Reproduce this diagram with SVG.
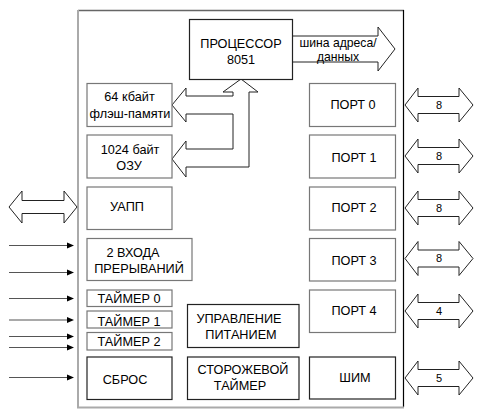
<svg xmlns="http://www.w3.org/2000/svg" width="478" height="417" viewBox="0 0 478 417">
<style>
text{font-family:"Liberation Sans",Arial,sans-serif;font-size:12.7px;fill:#000;text-anchor:middle}
.num{font-size:11px}
.bl{font-size:12.2px}
.box{fill:#fff;stroke:#777;stroke-width:1.2}
.dark{stroke:#222}
.bus{fill:#fff;stroke:#222;stroke-width:1}
.in{stroke:#555;stroke-width:1.2}
.head{fill:#000}
</style>
<rect width="478" height="417" fill="#fff"/>
<g id="chip">
<line x1="78" y1="10.5" x2="404" y2="10.5" stroke="#666" stroke-width="1.5"/>
<line x1="403.5" y1="10" x2="403.5" y2="407" stroke="#000" stroke-width="1.2"/>
<line x1="78" y1="10" x2="78" y2="408" stroke="#aaa" stroke-width="2"/>
<line x1="77" y1="407.5" x2="404" y2="407.5" stroke="#aaa" stroke-width="2"/>
</g>
<g id="connectors">
<polygon class="bus" points="292,36 378,36 378,27 395,49 378,71 378,62 292,62"/>
<line x1="292" y1="37" x2="292" y2="61" stroke="#fff" stroke-width="1.5"/>
<polygon class="bus" points="241,79 258,92 249,92 249,167 186,167 186,177 172,159 186,141 186,149 233,149 233,114 186,114 186,122 172,105 186,88 186,96 233,96 233,92 223,92"/>
<polygon class="bus" points="9,207 22,191 22,200.5 64,200.5 64,191 77,207 64,223 64,213.5 22,213.5 22,223"/>
<polygon class="bus" points="405,105 418,88 418,96.5 459,96.5 459,88 473,105 459,122 459,113.5 418,113.5 418,122"/>
<polygon class="bus" points="405,156 418,139 418,147.5 459,147.5 459,139 473,156 459,173 459,164.5 418,164.5 418,173"/>
<polygon class="bus" points="405,208 418,191 418,199.5 459,199.5 459,191 473,208 459,225 459,216.5 418,216.5 418,225"/>
<polygon class="bus" points="405,258.5 418,241.5 418,250 459,250 459,241.5 473,258.5 459,275.5 459,267 418,267 418,275.5"/>
<polygon class="bus" points="405,311 418,294 418,302.5 459,302.5 459,294 473,311 459,328 459,319.5 418,319.5 418,328"/>
<polygon class="bus" points="405,378 418,361 418,369.5 459,369.5 459,361 473,378 459,395 459,386.5 418,386.5 418,395"/>
<line class="in" x1="9" y1="245.5" x2="68" y2="245.5" stroke="#888"/><polygon class="head" points="67,242.5 74,245.5 67,248.5"/>
<line class="in" x1="9" y1="272.5" x2="68" y2="272.5" stroke="#888"/><polygon class="head" points="67,269.5 74,272.5 67,275.5"/>
<line class="in" x1="9" y1="298.5" x2="68" y2="298.5" stroke="#000"/><polygon class="head" points="67,295.5 74,298.5 67,301.5"/>
<line class="in" x1="9" y1="320" x2="68" y2="320" stroke="#aaa"/><polygon class="head" points="67,317 74,320 67,323"/>
<line class="in" x1="9" y1="336.5" x2="68" y2="336.5" stroke="#666"/><polygon class="head" points="67,333.5 74,336.5 67,339.5"/>
<line class="in" x1="9" y1="347.5" x2="68" y2="347.5" stroke="#666"/><polygon class="head" points="67,344.5 74,347.5 67,350.5"/>
<line class="in" x1="9" y1="377.5" x2="68" y2="377.5" stroke="#888"/><polygon class="head" points="67,374.5 74,377.5 67,380.5"/>
<text class="bl" x="338" y="47">шина адреса/</text>
<text class="bl" x="338" y="60.5">данных</text>
<text class="num" x="439" y="109">8</text>
<text class="num" x="439" y="160">8</text>
<text class="num" x="439" y="212">8</text>
<text class="num" x="439" y="262">8</text>
<text class="num" x="439" y="315">4</text>
<text class="num" x="439" y="382">5</text>
</g>
<g id="cpu"><rect class="box dark" x="189.5" y="19.5" width="103" height="60"/><text x="241" y="47.5">ПРОЦЕССОР</text><text x="241" y="64">8051</text></g>
<g id="flash"><rect class="box" x="87" y="83.5" width="85" height="43"/><text x="129.5" y="101">64 кбайт</text><text x="130" y="117.5">флэш-памяти</text></g>
<g id="ram"><rect class="box" x="87" y="135" width="85" height="43"/><text x="130" y="154">1024 байт</text><text x="129" y="170">ОЗУ</text></g>
<g id="uart"><rect class="box" x="87" y="187" width="85" height="42.5"/><text x="127" y="211">УАПП</text></g>
<g id="irq"><rect class="box" x="87" y="238.5" width="105" height="42"/><text x="133" y="257">2 ВХОДА</text><text x="139" y="273">ПРЕРЫВАНИЙ</text></g>
<g id="t0"><rect class="box" x="87" y="290" width="85" height="16.5"/><text x="129" y="303.3">ТАЙМЕР 0</text></g>
<g id="t1"><rect class="box" x="87" y="311" width="85" height="17"/><text x="129" y="325.7">ТАЙМЕР 1</text></g>
<g id="t2"><rect class="box" x="87" y="332.5" width="85" height="17.5"/><text x="129" y="346">ТАЙМЕР 2</text></g>
<g id="reset"><rect class="box dark" x="87" y="357" width="85" height="42.5"/><text x="125" y="384">СБРОС</text></g>
<g id="power"><rect class="box dark" x="187.5" y="304.5" width="111.5" height="43"/><text x="239" y="323.3">УПРАВЛЕНИЕ</text><text x="241" y="338.5">ПИТАНИЕМ</text></g>
<g id="watchdog"><rect class="box dark" x="187.5" y="357" width="111.5" height="42.5"/><text x="243" y="374.3">СТОРОЖЕВОЙ</text><text x="240" y="390">ТАЙМЕР</text></g>
<g id="port0"><rect class="box" x="309.5" y="83.5" width="86" height="43"/><text x="353" y="109.3">ПОРТ 0</text></g>
<g id="port1"><rect class="box" x="309.5" y="135" width="86" height="43"/><text x="354" y="162.3">ПОРТ 1</text></g>
<g id="port2"><rect class="box" x="309.5" y="187" width="86" height="43"/><text x="354" y="211.7">ПОРТ 2</text></g>
<g id="port3"><rect class="box" x="309.5" y="238.5" width="86" height="42.5"/><text x="354" y="265">ПОРТ 3</text></g>
<g id="port4"><rect class="box" x="309.5" y="290" width="86" height="42.5"/><text x="354" y="315">ПОРТ 4</text></g>
<g id="pwm"><rect class="box dark" x="309.5" y="357" width="86" height="42"/><text x="355" y="381.7">ШИМ</text></g>
</svg>
